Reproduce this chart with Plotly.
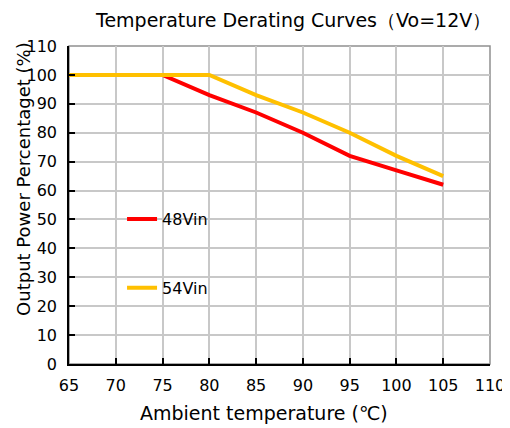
import plotly.graph_objects as go

temp_48 = [65, 75, 80, 85, 90, 95, 100, 105]
power_48 = [100, 100, 93, 87, 80, 72, 67, 62]
temp_54 = [65, 80, 85, 90, 95, 100, 105]
power_54 = [100, 100, 93, 87, 80, 72, 65]
x_ticks = [65, 70, 75, 80, 85, 90, 95, 100, 105, 110]
y_ticks = [0, 10, 20, 30, 40, 50, 60, 70, 80, 90, 100, 110]

FONT = "DejaVu Sans"

fig = go.Figure()
fig.add_trace(go.Scatter(x=temp_48, y=power_48, mode="lines", name="48Vin",
                         line=dict(color="#FF0000", width=4), legendgroup="a"))
fig.add_trace(go.Scatter(x=temp_54, y=power_54, mode="lines", name="54Vin",
                         line=dict(color="#FFC000", width=4), legendgroup="b"))

fig.update_layout(
    width=502, height=420,
    margin=dict(l=61, r=20, t=38, b=64, autoexpand=False),
    paper_bgcolor="white", plot_bgcolor="white",
    font=dict(family=FONT, size=16, color="black"),
    showlegend=True,
    legend=dict(x=0.126, y=0.509, xanchor="left", yanchor="top", bgcolor="rgba(0,0,0,0)",
                tracegroupgap=45, font=dict(size=16, family=FONT), traceorder="grouped"),
    xaxis=dict(range=[65, 110], tickvals=x_ticks, ticktext=[str(v) for v in x_ticks],
               showgrid=True, gridcolor="#C8C8C8", gridwidth=1.5,
               showline=True, linecolor="black", linewidth=1.5, mirror=False,
               ticks="inside", ticklen=6, tickcolor="black", tickwidth=1.5,
               ticklabelstandoff=6,
               zeroline=False, fixedrange=True, automargin=False),
    yaxis=dict(range=[0, 110], tickvals=y_ticks, ticktext=[str(v) for v in y_ticks],
               showgrid=True, gridcolor="#C8C8C8", gridwidth=1.5,
               showline=True, linecolor="black", linewidth=1.5,
               ticks="inside", ticklen=6, tickcolor="black", tickwidth=1.5,
               ticklabelstandoff=7,
               zeroline=False, fixedrange=True, automargin=False),
    annotations=[
        dict(text="Temperature Derating Curves（Vo=12V）", xref="paper", yref="paper",
             x=0.532, y=1.082, xanchor="center", yanchor="middle", showarrow=False,
             font=dict(size=19, family=FONT)),
        dict(text="Ambient temperature (℃)", xref="paper", yref="paper",
             x=0.463, y=-0.154, xanchor="center", yanchor="middle", showarrow=False,
             font=dict(size=19, family=FONT)),
        dict(text="Output Power Percentaget (%)", xref="paper", yref="paper",
             x=-0.107, y=0.582, xanchor="center", yanchor="middle", showarrow=False,
             textangle=-90, font=dict(size=18, family=FONT)),
    ],
    shapes=[dict(type="rect", xref="paper", yref="paper", x0=0, y0=0, x1=1, y1=1,
                 line=dict(color="#909090", width=1.5), layer="below")],
)

fig.write_html("out.html")
